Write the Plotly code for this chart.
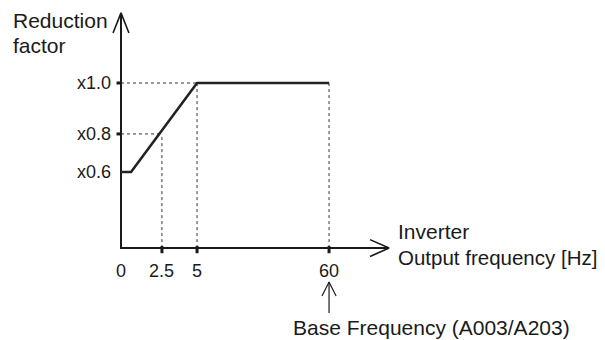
import plotly.graph_objects as go

# Schematic chart: the axes are not to scale, so each tick has a drawn position.
freq_labels = ["0", "2.5", "5", "60"]
freq_pos = [0.0, 2.73, 5.07, 13.87]

factor_labels = ["x0.6", "x0.8", "x1.0"]
factor_pos = [0.6, 0.771, 1.0]

# reduction curve: flat at x0.6, ramp to x1.0 at 5 Hz, flat up to base frequency
curve_x = [0.0, 0.67, 5.07, 13.87]
curve_y = [0.6, 0.6, 1.0, 1.0]

x_axis_level = 0.258   # where the frequency axis sits
x_axis_end = 17.87     # arrow tip of the frequency axis
y_axis_end = 1.315     # arrow tip of the factor axis

PAGE_PAD = 8           # default body margin of the html page
W, H = 605 - PAGE_PAD, 340 - PAGE_PAD   # keep the page free of scrollbars
INK = "#1a1a1a"
FONT = "Liberation Sans, Arial, sans-serif"

fig = go.Figure()

# dotted guide lines
gx, gy = [], []
for fx, fy in zip(freq_pos[1:], [factor_pos[1], factor_pos[2], factor_pos[2]]):
    gx += [fx, fx, None]
    gy += [x_axis_level, fy, None]
for fy, fx in zip(factor_pos[1:], freq_pos[1:3]):
    gx += [0, fx, None]
    gy += [fy, fy, None]
fig.add_trace(go.Scatter(x=gx, y=gy, mode="lines",
                         line=dict(color="#333333", width=1, dash="dot")))

# axes
fig.add_trace(go.Scatter(x=[0, 0, x_axis_end],
                         y=[y_axis_end, x_axis_level, x_axis_level],
                         mode="lines", line=dict(color=INK, width=2)))

# open arrow heads
ax = [-0.53, 0, 0.53, None, x_axis_end - 1.27, x_axis_end, x_axis_end - 1.27]
ay = [y_axis_end - 0.09, y_axis_end, y_axis_end - 0.09, None,
      x_axis_level + 0.038, x_axis_level, x_axis_level - 0.038]
fig.add_trace(go.Scatter(x=ax, y=ay, mode="lines", line=dict(color=INK, width=1.6)))

# tick marks
tx, ty = [], []
for fy in factor_pos[1:]:
    tx += [-0.3, 0, None]
    ty += [fy, fy, None]
for fx in freq_pos[1:]:
    tx += [fx, fx, None]
    ty += [x_axis_level + 0.009, x_axis_level - 0.023, None]
fig.add_trace(go.Scatter(x=tx, y=ty, mode="lines", line=dict(color=INK, width=3)))

# reduction curve
fig.add_trace(go.Scatter(x=curve_x, y=curve_y, mode="lines",
                         line=dict(color="#222222", width=2.6)))

# base frequency pointer
bx = freq_pos[3]
fig.add_trace(go.Scatter(
    x=[bx, bx, None, bx - 0.47, bx, bx + 0.47],
    y=[-0.034, 0.106, None, 0.043, 0.106, 0.043],
    mode="lines", line=dict(color=INK, width=1.2)))

ann = []
for lab, fx in zip(freq_labels, freq_pos):
    ann.append(dict(x=fx, y=x_axis_level, yshift=-23, text=lab, showarrow=False,
                    xanchor="center", yanchor="middle", font=dict(size=18)))
for lab, fy in zip(factor_labels, factor_pos):
    ann.append(dict(x=0, y=fy, xshift=-8, text=lab, showarrow=False,
                    xanchor="right", yanchor="middle", font=dict(size=18)))

def label(text, px, py, size=21):
    ann.append(dict(x=(px - PAGE_PAD) / W, y=1 - (py - PAGE_PAD) / H,
                    xref="paper", yref="paper", text=text,
                    showarrow=False, xanchor="left", yanchor="middle",
                    font=dict(size=size)))

label("Reduction", 11, 20)
label("factor", 11, 45)
label("Inverter", 396, 232)
label("Output frequency [Hz]", 396, 257, size=20.5)
label("Base Frequency (A003/A203)", 291, 327)

# 15 px per x unit, 222.5 px per y unit; origin at page pixel (121, 172)
x0 = (PAGE_PAD - 121) / 15
y1 = 0.6 + (172 - PAGE_PAD) / 222.5
fig.update_layout(
    width=W, height=H,
    margin=dict(l=0, r=0, t=0, b=0),
    paper_bgcolor="white", plot_bgcolor="white",
    showlegend=False,
    font=dict(family=FONT, color=INK),
    xaxis=dict(visible=False, range=[x0, x0 + W / 15], fixedrange=True),
    yaxis=dict(visible=False, range=[y1 - H / 222.5, y1], fixedrange=True),
    annotations=ann,
    hovermode=False,
)

fig.write_html("out.html", config=dict(displayModeBar=False))
